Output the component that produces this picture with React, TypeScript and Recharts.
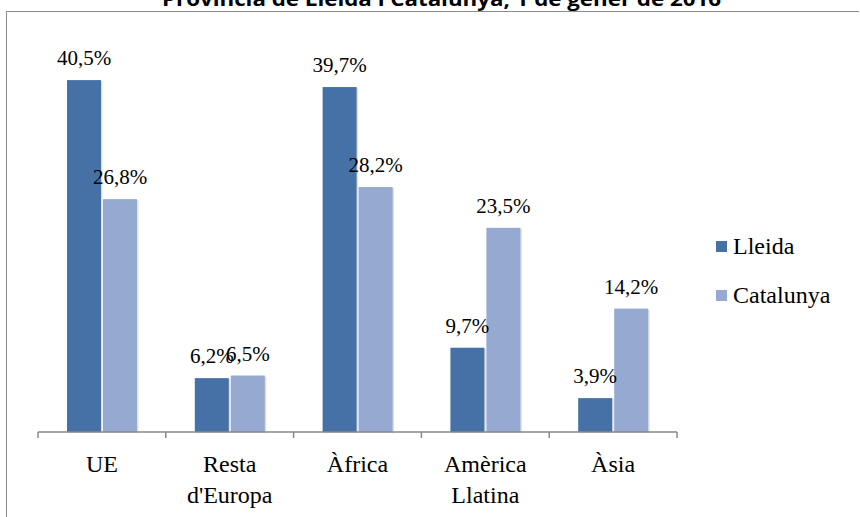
import React from 'react';
import { BarChart, Bar, XAxis, YAxis, LabelList, Legend } from 'recharts';

const categories = ['UE', "Resta d'Europa", 'Àfrica', 'Amèrica Llatina', 'Àsia'];
const lleida = [40.5, 6.2, 39.7, 9.7, 3.9];
const catalunya = [26.8, 6.5, 28.2, 23.5, 14.2];
const seriesNames = ['Lleida', 'Catalunya'];
const title = 'Provincia de Lleida i Catalunya, 1 de gener de 2016';

const data = categories.map((c, i) => ({ name: c, lleida: lleida[i], catalunya: catalunya[i] }));

const COLORS = ['#4571a7', '#95a9d1'];
const SERIF = 'Times New Roman';

const fmt = (v: any) => `${String(v).replace('.', ',')}%`;

const Tick = (props: any) => {
  const { x, y, payload, index, width, visibleTicksCount } = props;
  const n = visibleTicksCount || categories.length;
  const band = width ? width / n : 127.8;
  const words = String(payload.value).split(' ');
  const left = x - band / 2;
  const right = x + band / 2;
  return (
    <g>
      <line x1={left} y1={y} x2={left} y2={y + 6} stroke="#888" strokeWidth={1.5} />
      {index === n - 1 && <line x1={right} y1={y} x2={right} y2={y + 6} stroke="#888" strokeWidth={1.5} />}
      {words.map((w, i) => (
        <text key={i} x={x} y={y + 40 + i * 31} textAnchor="middle" fontFamily={SERIF} fontSize={24} fill="#000">
          {w}
        </text>
      ))}
    </g>
  );
};

const BarShape = (props: any) => {
  const { x, y, width, height, fill } = props;
  if (!height || height <= 0) return null;
  return (
    <g>
      <rect x={x + 1.5} y={y + 1} width={width} height={height} fill="rgba(0,0,0,0.12)" />
      <rect x={x} y={y} width={width} height={height} fill={fill} />
    </g>
  );
};

const LegendContent = () => (
  <div style={{ fontFamily: SERIF, fontSize: 24, color: '#000' }}>
    {seriesNames.map((s, i) => (
      <div key={s} style={{ display: 'flex', alignItems: 'center', height: 49 }}>
        <span style={{ display: 'inline-block', width: 11, height: 11, background: COLORS[i], marginRight: 6 }} />
        <span>{s}</span>
      </div>
    ))}
  </div>
);

export default function App() {
  return (
    <div style={{ position: 'absolute', left: 0, top: 0, width: 860, height: 517, overflow: 'hidden', background: '#fff' }}>
      <div style={{ position: 'absolute', left: 6, top: 11, width: 852, height: 505, borderLeft: '1.5px solid #8c8c8c', borderTop: '1.5px solid #8c8c8c' }} />
      <div style={{ position: 'absolute', left: 0, top: 0 }}>
        <BarChart width={860} height={517} data={data} margin={{ top: 41, right: 183, bottom: 0, left: 38 }}
          barCategoryGap={29} barGap={2}>
          <XAxis dataKey="name" height={85} tickSize={0} tickMargin={0} tickLine={false}
            axisLine={{ stroke: '#888', strokeWidth: 1.5 }} tick={<Tick />} interval={0} />
          <YAxis hide domain={[0, 45]} />
          <Legend layout="vertical" align="center" verticalAlign="middle" content={<LegendContent />}
            wrapperStyle={{ left: 716, top: 222, width: 140 }} />
          <Bar dataKey="lleida" name={seriesNames[0]} fill={COLORS[0]} isAnimationActive={false} shape={<BarShape />}>
            <LabelList dataKey="lleida" position="top" offset={15} formatter={fmt}
              fontFamily={SERIF} fontSize={21} fill="#000" />
          </Bar>
          <Bar dataKey="catalunya" name={seriesNames[1]} fill={COLORS[1]} isAnimationActive={false} shape={<BarShape />}>
            <LabelList dataKey="catalunya" position="top" offset={15} formatter={fmt}
              fontFamily={SERIF} fontSize={21} fill="#000" />
          </Bar>
        </BarChart>
      </div>
      <svg style={{ position: 'absolute', left: 0, top: 0 }} width={860} height={20}>
        <text x={162} y={5.5} textLength={559} lengthAdjust="spacingAndGlyphs" fontFamily="Open Sans" fontWeight="bold" fontSize={20} fill="#000">
          {title}
        </text>
      </svg>
    </div>
  );
}
